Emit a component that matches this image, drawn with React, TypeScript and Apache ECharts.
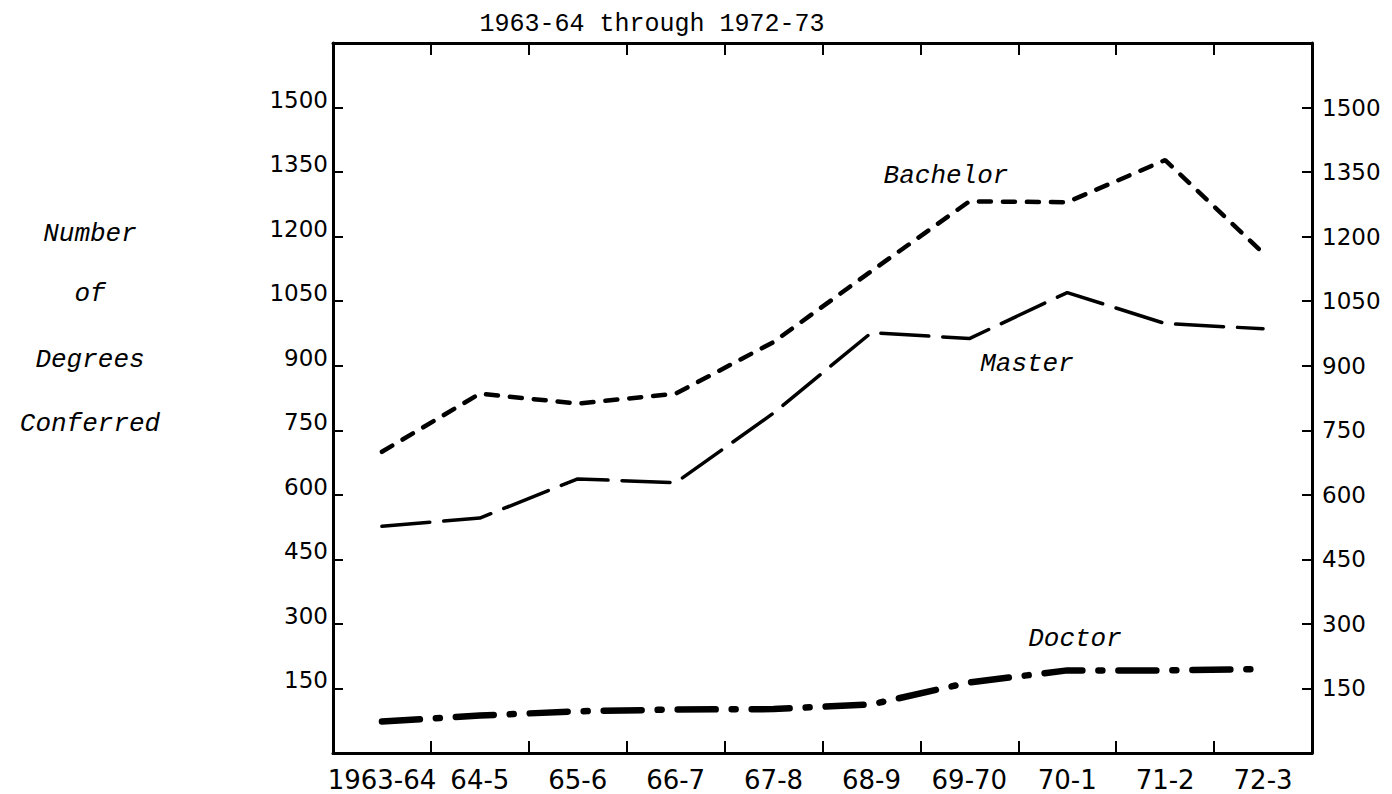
import React, { useEffect, useRef } from "react";
import * as echarts from "echarts";

const categories = ["1963-64", "64-5", "65-6", "66-7", "67-8", "68-9", "69-70", "70-1", "71-2", "72-3"];
const bachelor = [700, 835, 812, 835, 955, 1120, 1282, 1280, 1378, 1162];
const master = [527, 546, 637, 628, 790, 977, 963, 1070, 998, 986];
const doctor = [73, 87, 97, 101, 102, 113, 164, 192, 192, 195];
const yMin = 0;
const yMax = 1650;
const yStep = 150;
const titleText = "1963-64 through 1972-73";
const yTitleLines = ["Number", "of", "Degrees", "Conferred"];
const seriesNames = ["Bachelor", "Master", "Doctor"];

const MONO = "'Liberation Mono', 'DejaVu Sans Mono', monospace";
const SANS = "'DejaVu Sans', 'Liberation Sans', sans-serif";

function hideEnds(v: number) {
  if (v === yMin || v === yMax) return "";
  return String(v);
}

const mkLine = () => ({ show: true, onZero: false, lineStyle: { color: "#000", width: 3 } });
const mkTick = (len: number) => ({
  show: true,
  inside: true,
  length: len,
  interval: 0,
  alignWithLabel: false,
  lineStyle: { color: "#000", width: 2 },
});

export default function App() {
  const ref = useRef<HTMLDivElement>(null);
  useEffect(() => {
    if (!ref.current) return;
    const chart = echarts.init(ref.current, undefined, { renderer: "svg" });
    const txt = (text: string, x: number, y: number, font: string, align = "center") => ({
      type: "text",
      x,
      y,
      style: {
        text,
        font,
        fill: "#000",
        textAlign: align,
        textVerticalAlign: "middle",
        align,
        verticalAlign: "middle",
      },
    });
    const yLineYs = [234, 294, 360, 424];
    const option: any = {
      animation: false,
      backgroundColor: "#fff",
      grid: { left: 333, right: 80, top: 43, bottom: 41, containLabel: false },
      xAxis: [
        {
          type: "category",
          data: categories,
          position: "bottom",
          boundaryGap: true,
          axisLine: mkLine(),
          axisTick: mkTick(12),
          axisLabel: { color: "#000", fontFamily: SANS, fontSize: 26, margin: 14, interval: 0 },
          splitLine: { show: false },
        },
        {
          type: "category",
          data: categories,
          position: "top",
          boundaryGap: true,
          axisLine: mkLine(),
          axisTick: mkTick(12),
          axisLabel: { show: false, interval: 0 },
          splitLine: { show: false },
        },
      ],
      yAxis: [
        {
          type: "value",
          min: yMin,
          max: yMax,
          interval: yStep,
          position: "left",
          axisLine: mkLine(),
          axisTick: mkTick(10),
          axisLabel: {
            color: "#000",
            fontFamily: SANS,
            fontSize: 23,
            margin: 5,
            verticalAlign: "bottom",
            lineHeight: 16,
            formatter: hideEnds,
          },
          splitLine: { show: false },
        },
        {
          type: "value",
          min: yMin,
          max: yMax,
          interval: yStep,
          position: "right",
          axisLine: mkLine(),
          axisTick: mkTick(10),
          axisLabel: {
            color: "#000",
            fontFamily: SANS,
            fontSize: 23,
            margin: 10,
            verticalAlign: "middle",
            formatter: hideEnds,
          },
          splitLine: { show: false },
        },
      ],
      series: [
        {
          name: seriesNames[0],
          type: "line",
          data: bachelor,
          symbol: "none",
          lineStyle: { color: "#000", width: 4.5, type: [12, 12], cap: "round" },
        },
        {
          name: seriesNames[1],
          type: "line",
          data: master,
          symbol: "none",
          lineStyle: { color: "#000", width: 3.5, type: [48, 14], cap: "round" },
        },
        {
          name: seriesNames[2],
          type: "line",
          data: doctor,
          symbol: "none",
          lineStyle: { color: "#000", width: 6.5, type: [38, 16, 4, 16], cap: "round" },
        },
      ],
      graphic: [
        txt(titleText, 652, 24, `25px ${MONO}`),
        ...yTitleLines.map((t, i) => txt(t, 90, yLineYs[i], `italic 26px ${MONO}`)),
        txt(seriesNames[0], 946, 176, `italic 26px ${MONO}`),
        txt(seriesNames[1], 1027, 364, `italic 26px ${MONO}`),
        txt(seriesNames[2], 1075, 639, `italic 26px ${MONO}`),
      ],
    };
    chart.setOption(option);
    return () => chart.dispose();
  }, []);
  return (
    <div
      ref={ref}
      style={{ position: "fixed", left: 0, top: 0, width: 1392, height: 794, background: "#fff" }}
    />
  );
}
